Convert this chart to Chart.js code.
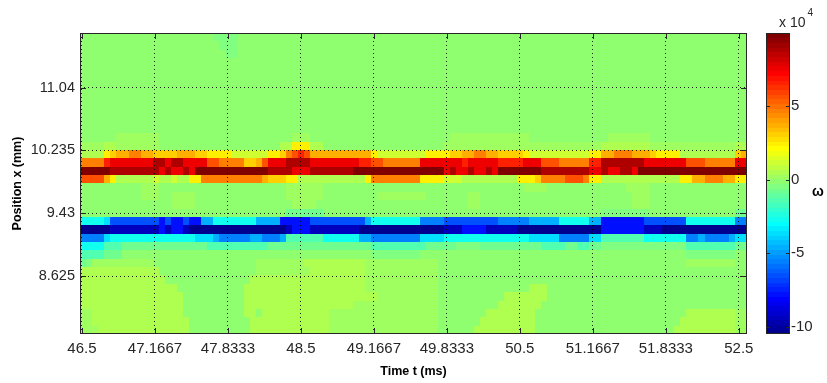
<!DOCTYPE html>
<html>
<head>
<meta charset="utf-8">
<title>Vorticity map</title>
<script src="https://cdn.jsdelivr.net/npm/chart.js@4.4.0/dist/chart.umd.min.js"></script>
<style>
    html, body { margin: 0; padding: 0; background: #fff; }
    #wrap { width: 827px; height: 383px; }
</style>
</head>
<body>
<div id="wrap"><canvas id="omegaChart" width="827" height="383"></canvas></div>
<script>
// Extent of the sampled field
const timeRange = [46.482, 52.575];      // ms
const positionRange = [7.882, 11.739];   // mm
const timeTicks = [46.5, 47.1667, 47.8333, 48.5, 49.1667, 49.8333, 50.5, 51.1667, 51.8333, 52.5];
const positionTicks = [8.625, 9.43, 10.235, 11.04];

// Colour scale (x 1e4)
const omegaRange = [-10.5, 9.97];
const omegaTicks = [-10, -5, 0, 5];

// One character per cell, looked up in levelCodes -> levelValues (x 1e4)
const levelCodes = "ABCDEFGHIJK.kjihgfedcbaz";
const levelValues = [-10.3, -9.5, -7.9, -6.6, -5.6, -4.6, -3.5, -2.6, -1.3, -0.7, -0.4, -0.1,
                     0.2, 0.55, 1.2, 2.4, 3.0, 3.8, 4.6, 5.7, 6.7, 7.6, 8.7, 9.8];

// Rows from the top of the window (largest x) down, 110 frames each
const omegaRows = [
    ".......... .......... ..KKKK.... .......... .......... .......... .......... .......... .......... .......... ..........",
    ".......... .......... ...KKK.... .......... .......... .......... .......... .......... .......... .......... ..........",
    ".......... .......... ....KK.... .......... .......... .......... .......... .......... .......... .......... ..........",
    ".......... .......... .......... .......... .......... .......... .......... .......... .......... .......... ..........",
    ".......... .......... .......... .......... .......... .......... .......... .......... .......... .......... ..........",
    ".......... .......... .......... .......... .......... .......... .......... .......... .......... .......... ..........",
    ".......... .......... .......... .......... .......... .......... .......... .......... .......... .......... ..........",
    ".......... .......... .......... .......... .......... .......... .......... .......... .......... .......... ..........",
    ".......... .......... .......... .......... .......... .......... .......... .......... .......... .......... ..........",
    ".......... .......... .......... .......... .......... .......... .......... .......... .......... .......... ..........",
    ".......... .......... .......... .......... .......... .......... .......... .......... .......... .......... ..........",
    ".......... .......... .......... .......... .......... .......... .......... .......... .......... .......... ..........",
    "......kkkk kkk....... .......... .....kkk.. .......... .......... .kkkkkkkkk kkkk...... .......kkk kkkk...... ..........",
    "kkkkjjkkkk kkk....... .......... ...jjhhhjj .......... .......... kkkkkkkkkk kkkkkkkkkk kkkkkkjjjj jjjjkkkkkk kkkkkkkkjj",
    "jjjjhgffee ffggggfffg ghhhhiiiii ihhgedcdff ffffffffhi iiiiiiihhh hggffeeffg ggghiiiiii iiiihhffee efffghhhhj jjjjjjjjgf",
    "eeeecbbbbb bbaabaabbb bddeeeeggf dbbbaaaabb bbbbbbccdd eeeeeebbbb bbbcbbbbbc cccbbbddde eeeeccaaaa aaabbbbbbb dddeeeeebb",
    "zzzzzaaaaa aaababbabz zzzzzzzzzz zaaaabbbaa aaaaazzzzz zzzzzzzzzz babbabbabz zzzzzzaaaa aaaabbabba abzzzzzzzz zzzzzzzzzz",
    "ddddfhjjjj jjijjijjhh eeeeeeeeee fggghhjjjj jjjjjjjhee eeeeeehhhh iiijjjjjjj jjhhhgeeee dddehhjjjj jjjjjjjjjh hffeeeffhh",
    ".......... kkk....... .......... ....kkkkkk .......... .......... .......... ...kkkk... .......... kkkk...... ..........",
    ".......... kkk..kkkk. .......... ....kkkkkk .........k kkkkkkk... ....kk.... .......... .......... .kkk...... ..........",
    ".......... .....kkkk. .......... .....kkkk. .......... .......... ....kk.... .......... .......... .kkk...... ..........",
    ".......... .......... .......... ....JJJJJJ .......... .......... .......... .......... ......KKKK KKKK...... ........JJ",
    "HHHHGDDDDD DDDCDCCDCC FFHHHHHHHF FFFCCCCCDD DDDDDDDFHH HHHHHHEEEE DDDDDDDDDE EEEEFFFFFH HHHHFFCCCC CCCDDDDDDD HHHHHHHHEE",
    "AAAAABBBBB BBBCBCCBAA AAAAAAAAAA AAAABCCCBB BBBBBBAAAA AAAAAAAAAA BBBCCCCBBB BBAAAAAAAA AAAAAACCCC CCCBBBAAAA AAAAAAAAAA",
    "EEEEGHHHHH HHHHHHHHHG GGFEEEEEFF EEEFIIIIII HHHHHHFFEE EEEEEEGGGG HHHHHHHHHH HHHHGGGGGE EEEEGGIIII IIIHHHHHHH EEFEEEEFGG",
    "HHHHIIIJJJ JJJJJJJJJJ JIIIIIIIII IJJJJJJJJJ JJJJJJJJII IIIIIIIJJJ JJKKKKJJJJ JJJJJJIIII JJIIJJKKKK KKKKKKKKKK IIIIIIIIJJ",
    "IIIIJJJ... .......... .......... .......... ........KK KKKKKK.... .......... .......... .......... .......... KKKKKKKK..",
    "JKkkkkkkkk kk........ .........k kkkkkkkjjj jjjjjjjkkk kkkkkkkkk. .......... .......... .......... .......... kkkkkkkk..",
    "jjjjjjjjjj jjj....... .........k kkkkkkkkjj jjjjjjjkkk kkkkkkkkk. .......... .......... .......... .......... ..........",
    "jjjjjjjjjj jjjj...... ........jj jjjjjjjjjj jjjjjjjkkk kkkkkkkkk. .......... .......... .......... .......... ..........",
    "jjjjjjjjjj jjjjjj.... .......jjj jjjjjjjjjj jjjjjjjkkk kkkkkkkkk. .......... ....jjj... .......... .......... ..........",
    "jjjjjjjjjj jjjjjjj... .......jjj jjjjjjjjjj jjjjjjjjjk kkkkkkkkk. .......... jjjjjjj... .......... .......... ..........",
    "jjjjjjjjjj jjjjjjj... .......jjj jjjjjjjjjj jjjjjkkkkk kkkkkkkkk. .........j jjjjjj.... .......... .......... ..........",
    "kkjjjjjjjj jjjjjjj... .......jj. jjjjjjjjjj jkkkkkkkkk kkkkkkkkk. .......jjj jjjjj..... .......... .......... jjjjjjjjkk",
    "kkjjjjjjjj jjjjjjjj.. ........jj jjjjjjjjjj jkkkkkkkkk kkkkkkkkk. ......jjjj jjjjj..... .......... .........j jjjjjjjjkk",
    "kkkjjjjjjj jjjjjjjj.. ........jj jjjjjjjjjj jkkkkkkkkk kkkkkkkkk. .....jjjjj jjjjj..... .......... ........jj jjjjjjjjkk"
];

const cells = omegaRows.map(row =>
    row.replace(/ /g, "").slice(0, 110).split("").map(ch => levelValues[levelCodes.indexOf(ch)])
);

// MATLAB style jet colormap, 64 entries
function jet64(k) {
    let r = 0, g = 0, b = 0;
    if (k >= 24 && k <= 39) r = (k - 23) / 16;
    else if (k >= 40 && k <= 55) r = 1;
    else if (k >= 56) r = (71 - k) / 16;
    if (k >= 8 && k <= 23) g = (k - 7) / 16;
    else if (k >= 24 && k <= 39) g = 1;
    else if (k >= 40 && k <= 54) g = (55 - k) / 16;
    if (k <= 7) b = (k + 9) / 16;
    else if (k <= 23) b = 1;
    else if (k <= 38) b = (39 - k) / 16;
    return "rgb(" + Math.round(r * 255) + "," + Math.round(g * 255) + "," + Math.round(b * 255) + ")";
}

function colorFor(v) {
    const t = (v - omegaRange[0]) / (omegaRange[1] - omegaRange[0]);
    return jet64(Math.min(63, Math.max(0, Math.floor(t * 64))));
}

const axisColor = "#262626";
const fontFamily = "'Liberation Sans', Arial, Helvetica, sans-serif";

// Field cells, drawn under the grid
const heatmap = {
    id: "heatmap",
    beforeDraw(chart) {
        const { ctx, chartArea: a, scales: { x, y } } = chart;
        const nRows = cells.length;
        const nCols = cells[0].length;
        const dt = (timeRange[1] - timeRange[0]) / nCols;
        const dp = (positionRange[1] - positionRange[0]) / nRows;
        ctx.save();
        ctx.beginPath();
        ctx.rect(a.left, a.top, a.right - a.left, a.bottom - a.top);
        ctx.clip();
        cells.forEach((row, r) => {
            const y0 = Math.round(y.getPixelForValue(positionRange[1] - r * dp));
            const y1 = Math.round(y.getPixelForValue(positionRange[1] - (r + 1) * dp));
            row.forEach((v, c) => {
                if (v === undefined) return;
                const x0 = Math.round(x.getPixelForValue(timeRange[0] + c * dt));
                const x1 = Math.round(x.getPixelForValue(timeRange[0] + (c + 1) * dt));
                ctx.fillStyle = colorFor(v);
                ctx.fillRect(x0, y0, x1 - x0, y1 - y0);
            });
        });
        ctx.restore();
    }
};

// Axes box with inward ticks, plus the colour bar
const frame = {
    id: "frame",
    afterDraw(chart) {
        const { ctx, chartArea: a, scales: { x, y, omega } } = chart;
        ctx.save();
        ctx.strokeStyle = axisColor;
        ctx.lineWidth = 1;
        ctx.strokeRect(a.left + 0.5, a.top + 0.5, a.right - a.left - 1, a.bottom - a.top - 1);
        ctx.beginPath();
        timeTicks.forEach(v => {
            const px = Math.round(x.getPixelForValue(v)) + 0.5;
            ctx.moveTo(px, a.bottom); ctx.lineTo(px, a.bottom - 6);
            ctx.moveTo(px, a.top); ctx.lineTo(px, a.top + 6);
        });
        positionTicks.forEach(v => {
            const py = Math.round(y.getPixelForValue(v)) + 0.5;
            ctx.moveTo(a.left, py); ctx.lineTo(a.left + 6, py);
            ctx.moveTo(a.right, py); ctx.lineTo(a.right - 6, py);
        });
        ctx.stroke();

        // colour bar
        const cbL = omega.left + 19;
        const cbR = omega.left + 43;
        const step = (omegaRange[1] - omegaRange[0]) / 64;
        for (let k = 0; k < 64; k++) {
            const yHi = omega.getPixelForValue(omegaRange[0] + (k + 1) * step);
            const yLo = omega.getPixelForValue(omegaRange[0] + k * step);
            ctx.fillStyle = jet64(k);
            ctx.fillRect(cbL, Math.floor(yHi), cbR - cbL, Math.ceil(yLo) - Math.floor(yHi));
        }
        ctx.strokeRect(cbL + 0.5, omega.top + 0.5, cbR - cbL - 1, omega.bottom - omega.top - 1);
        ctx.beginPath();
        omegaTicks.forEach(v => {
            const py = Math.round(omega.getPixelForValue(v)) + 0.5;
            ctx.moveTo(cbL, py); ctx.lineTo(cbL + 4, py);
            ctx.moveTo(cbR, py); ctx.lineTo(cbR - 4, py);
        });
        ctx.stroke();

        // exponent and quantity labels
        ctx.fillStyle = axisColor;
        ctx.textBaseline = "middle";
        ctx.textAlign = "left";
        ctx.font = "14px " + fontFamily;
        ctx.fillText("x 10", cbL + 13, 23);
        const w = ctx.measureText("x 10").width;
        ctx.font = "10px " + fontFamily;
        ctx.fillText("4", cbL + 15 + w, 13);
        ctx.fillStyle = "#000";
        ctx.font = "bold 14px " + fontFamily;
        ctx.fillText("ω", omega.left + 65, (a.top + a.bottom) / 2 + 9);
        ctx.restore();
    }
};

// Fixed axis boxes so the plot area keeps its place
function fixBox(size) {
    return s => {
        if (s.isHorizontal()) s.height = size; else s.width = size;
        s.paddingTop = 0; s.paddingBottom = 0; s.paddingLeft = 0; s.paddingRight = 0;
    };
}

Chart.defaults.font.family = fontFamily;

const tickFont = { size: 15 };
const titleFont = { size: 12.5, weight: "bold" };

new Chart(document.getElementById("omegaChart").getContext("2d"), {
    type: "scatter",
    data: { datasets: [{ data: [], pointRadius: 0 }] },
    options: {
        responsive: false,
        animation: false,
        layout: { padding: { top: 33, left: 0, right: 0, bottom: 0 } },
        plugins: { legend: { display: false }, tooltip: { enabled: false } },
        scales: {
            x: {
                type: "linear",
                min: timeRange[0],
                max: timeRange[1],
                afterBuildTicks: s => { s.ticks = timeTicks.map(v => ({ value: v })); },
                afterFit: fixBox(49),
                ticks: { color: axisColor, font: tickFont, padding: 6, maxRotation: 0, callback: v => String(v) },
                grid: { color: "rgba(0,0,0,0.85)", lineWidth: 1, drawTicks: false },
                border: { display: false, dash: [1, 3] },
                title: { display: true, text: "Time t (ms)", color: "#000", font: titleFont, padding: { top: 0, bottom: 4 } }
            },
            y: {
                type: "linear",
                position: "left",
                min: positionRange[0],
                max: positionRange[1],
                afterBuildTicks: s => { s.ticks = positionTicks.map(v => ({ value: v })); },
                afterFit: fixBox(80),
                ticks: { color: axisColor, font: { size: 14.5 }, padding: 5, callback: v => String(v) },
                grid: { color: "rgba(0,0,0,0.85)", lineWidth: 1, drawTicks: false },
                border: { display: false, dash: [1, 3] },
                title: { display: true, text: "Position x (mm)", color: "#000", font: titleFont, padding: { top: 10.5, bottom: 0 } }
            },
            omega: {
                type: "linear",
                position: "right",
                min: omegaRange[0],
                max: omegaRange[1],
                afterBuildTicks: s => { s.ticks = omegaTicks.map(v => ({ value: v })); },
                afterFit: fixBox(80),
                ticks: { color: axisColor, font: tickFont, padding: 44, callback: v => String(v) },
                grid: { display: false, drawTicks: false },
                border: { display: false }
            }
        }
    },
    plugins: [heatmap, frame]
});
</script>
</body>
</html>
